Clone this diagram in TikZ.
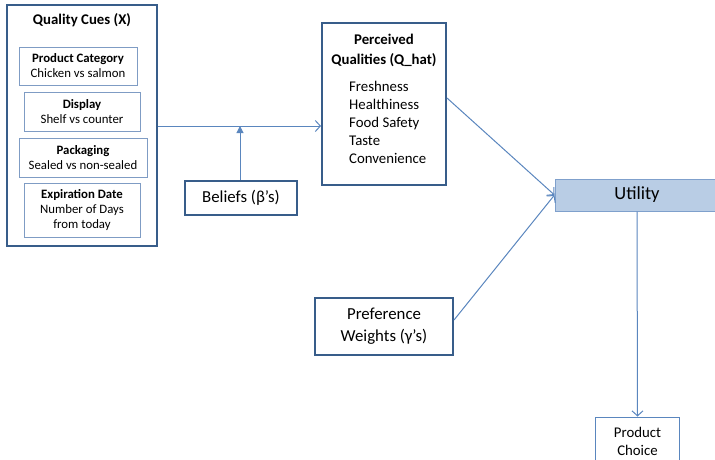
\documentclass[tikz,border=0pt]{standalone}
\usepackage{fontspec}
\setmainfont{Carlito}
\usetikzlibrary{arrows.meta}
\definecolor{boxdark}{HTML}{385D8A}
\definecolor{boxlight}{HTML}{7F9CC4}
\definecolor{flowblue}{HTML}{5A86BE}
\definecolor{utilfill}{HTML}{B9CDE5}
\definecolor{utilline}{HTML}{7FA0CC}
\tikzset{
  mainbox/.style={draw=boxdark,line width=2pt,fill=white,inner sep=0pt},
  cuebox/.style={draw=boxlight,line width=0.9pt,inner sep=0pt,align=center,
    font=\fontsize{12.8}{15}\selectfont},
  flow/.style={draw=flowblue,line width=1pt,-{Straight Barb[length=5pt,width=11pt]}},
  flowfill/.style={draw=flowblue,line width=1pt,-{Triangle[length=7pt,width=7pt]}}
}
\begin{document}
\begin{tikzpicture}[x=1pt,y=-1pt]
  \useasboundingbox (0,0) rectangle (715,459);
  % quality cues
  \node[mainbox,minimum width=150pt,minimum height=241pt] (qc) at (82,125.5) {};
  \node[font=\bfseries\fontsize{14.8}{17}\selectfont] (qctitle) at (82,20) {Quality Cues (X)};
  \node[cuebox,minimum width=118pt,minimum height=38pt] (cat) at (78,66)
    {\textbf{Product Category}\\Chicken vs salmon};
  \node[cuebox,minimum width=116pt,minimum height=39pt] (disp) at (82,111.5)
    {\textbf{Display}\\Shelf vs counter};
  \node[cuebox,minimum width=128pt,minimum height=39pt] (pack) at (83,157.5)
    {\textbf{Packaging}\\Sealed vs non-sealed};
  \node[cuebox,minimum width=116pt,minimum height=54pt] (exp) at (82,210)
    {\textbf{Expiration Date}\\Number of Days\\from today};
  % perceived qualities
  \node[mainbox,minimum width=124pt,minimum height=162pt] (pq) at (384,104) {};
  \node[font=\bfseries\fontsize{14.8}{20}\selectfont,align=center] (pqtitle) at (384,50)
    {Perceived\\Qualities (Q\_hat)};
  \node[font=\fontsize{14.8}{18}\selectfont,align=left,anchor=west,inner sep=0pt] (pqlist) at (349,122)
    {Freshness\\Healthiness\\Food Safety\\Taste\\Convenience};
  % beliefs and weights
  \node[mainbox,minimum width=112pt,minimum height=34pt,font=\fontsize{16.8}{20}\selectfont] (bel) at (241,198)
    {Beliefs (β’s)};
  \node[mainbox,minimum width=138pt,minimum height=57pt,align=center,font=\fontsize{16.8}{22}\selectfont] (pref) at (384,326)
    {Preference\\Weights (γ’s)};
  % utility and choice
  \node[draw=utilline,fill=utilfill,line width=1pt,minimum width=164pt,minimum height=32pt,
    font=\fontsize{18.5}{20}\selectfont] (util) at (637,195) {Utility};
  \node[draw=flowblue,line width=1pt,minimum width=84pt,minimum height=48pt,align=center,
    font=\fontsize{14.8}{18}\selectfont] (choice) at (637.5,441) {Product\\Choice};
  % connectors
  \coordinate (join) at (240,126);
  \draw[flow] (qc.east |- join) -- (pq.west |- join);
  \draw[flowfill] (bel.north -| join) -- (join);
  \draw[flow] (pq.east |- 0,98) -- (util.west);
  \draw[flow] (pref.east |- 0,320) -- (util.west);
  \draw[flow] (util.south) -- (choice.north);
\end{tikzpicture}
\end{document}
